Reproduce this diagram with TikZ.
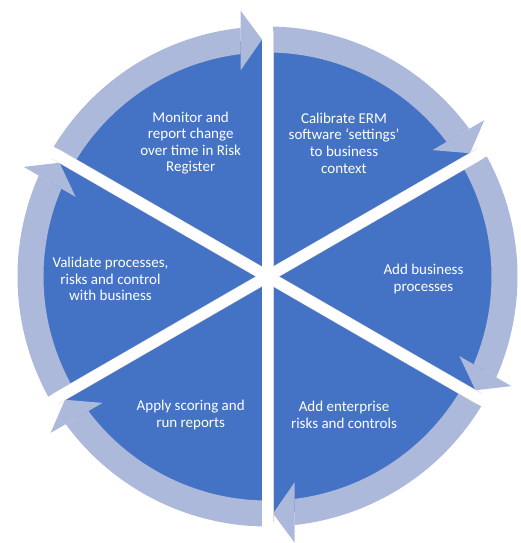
\documentclass[tikz,border=0pt]{standalone}
\usepackage{fontspec}
\setmainfont{Carlito}
\definecolor{segblue}{HTML}{4472C4}
\definecolor{arrowlight}{HTML}{ADB9DB}

\begin{document}
\begin{tikzpicture}[x=1pt, y=1pt,
        segment/.style = {fill=segblue},
        band/.style = {fill=arrowlight},
        cycletext/.style = {text=white, align=center, font=\fontsize{15}{16.6}\selectfont},
        gap/.style = {draw=white, line width=11pt}]
    % page size
    \useasboundingbox (-267.5,-266.5) rectangle (252.5,276.5);

    % draw the six pie segments, each with its arrow on the rim
    \foreach \k in {0,...,5} {
        \begin{scope}[rotate=-60*\k]
            \fill[segment] (0,0) -- (90:237pt) arc[start angle=90, end angle=150, radius=237pt] -- cycle;
            \begin{scope}
                \clip (-27,0) rectangle (-300,300);
                \fill[band] (90:250pt) arc[start angle=90, end angle=150, radius=250pt]
                    -- (150:224pt) arc[start angle=150, end angle=90, radius=224pt] -- cycle;
            \end{scope}
            \fill[band] (-27,206) -- (-27,266) -- (-5.5,237) -- cycle;
        \end{scope}
    }

    % white gaps between the segments
    \foreach \a in {90,30,-30}
        \draw[gray!30, line width=12pt] (\a:245pt) -- (\a+180:245pt);
    \foreach \a in {90,30,-30}
        \draw[gap] (\a:270pt) -- (\a+180:270pt);

    % step texts
    \node[cycletext] (monitor) at (-76.8,133.4) {Monitor and\\report change\\over time in Risk\\Register};
    \node[cycletext] (calibrate) at (76.5,133.4) {Calibrate ERM\\software ‘settings’\\to business\\context};
    \node[cycletext] (addproc) at (156,-2.5) {Add business\\processes};
    \node[cycletext] (addrisk) at (76.5,-138.2) {Add enterprise\\risks and controls};
    \node[cycletext] (apply) at (-76.8,-138.2) {Apply scoring and\\run reports};
    \node[cycletext] (validate) at (-157,-2.4) {Validate processes,\\risks and control\\with business};
\end{tikzpicture}
\end{document}
